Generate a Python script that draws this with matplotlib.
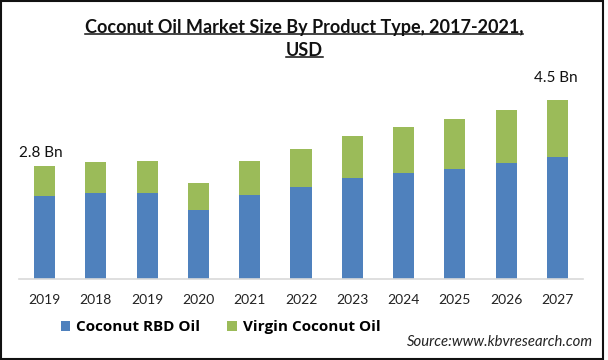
import matplotlib
matplotlib.use("Agg")
import matplotlib.pyplot as plt
from matplotlib.patches import Patch, Rectangle
from matplotlib.lines import Line2D

# ---- data ----
years = ["2019", "2018", "2019", "2020", "2021", "2022", "2023", "2024", "2025", "2026", "2027"]
rbd_oil = [2.06, 2.13, 2.13, 1.71, 2.08, 2.28, 2.50, 2.63, 2.73, 2.88, 3.03]
virgin_oil = [0.74, 0.77, 0.79, 0.67, 0.84, 0.94, 1.04, 1.14, 1.24, 1.31, 1.41]
series_names = ["Coconut RBD Oil", "Virgin Coconut Oil"]
title_lines = ["Coconut Oil Market Size By Product Type, 2017-2021,", "USD"]
first_label = "2.8 Bn"
last_label = "4.5 Bn"
source_text = "Source:www.kbvresearch.com"

BLUE = "#4F81BD"
GREEN = "#9BBB59"
FONT = "Lato"

W, H = 608, 360
fig = plt.figure(figsize=(W / 100, H / 100), dpi=100)
fig.patch.set_facecolor("white")

# axes placed in pixel terms
left, right, base, top = 19, 583, 279, 70
ax = fig.add_axes([left / W, (H - base) / H, (right - left) / W, (base - top) / H])
x = list(range(len(years)))
ax.bar(x, rbd_oil, width=0.41, color=BLUE, zorder=2)
ax.bar(x, virgin_oil, width=0.41, bottom=rbd_oil, color=GREEN, zorder=2)
ax.set_xlim(-0.5, len(years) - 0.5)
ax.set_ylim(0, 5.18)
ax.set_xticks(x)
ax.set_xticklabels(years, fontfamily=FONT, fontsize=10, color="#222222")
ax.tick_params(axis="x", length=0, pad=11)
ax.set_yticks([])
for s in ["top", "right", "left"]:
    ax.spines[s].set_visible(False)
ax.spines["bottom"].set_color("#D9D9D9")
ax.spines["bottom"].set_linewidth(1.2)
ax.patch.set_alpha(0)

tot0 = rbd_oil[0] + virgin_oil[0]
totn = rbd_oil[-1] + virgin_oil[-1]
ax.annotate(first_label, xy=(0, tot0), xytext=(-4, 13), textcoords="offset pixels",
            ha="center", va="center", fontfamily=FONT, fontsize=11, color="#111111")
ax.annotate(last_label, xy=(len(years) - 1, totn), xytext=(-2, 22), textcoords="offset pixels",
            ha="center", va="center", fontfamily=FONT, fontsize=11, color="#111111")

# title with underline
t1 = fig.text(0.5, 1 - 27 / H, title_lines[0], ha="center", va="center",
              fontfamily=FONT, fontweight="bold", fontsize=13, color="#111111")
t2 = fig.text(0.5, 1 - 50 / H, title_lines[1], ha="center", va="center",
              fontfamily=FONT, fontweight="bold", fontsize=13, color="#111111")
fig.canvas.draw()
r = fig.canvas.get_renderer()
for t, uy in [(t1, 33.5), (t2, 56.5)]:
    bb = t.get_window_extent(r)
    fig.add_artist(Line2D([bb.x0 / W, bb.x1 / W], [1 - uy / H, 1 - uy / H],
                          transform=fig.transFigure, color="#111111", lw=1.1))

# legend
handles = [Patch(facecolor=BLUE, edgecolor="none"), Patch(facecolor=GREEN, edgecolor="none")]
fig.legend(handles, series_names, loc="center left", bbox_to_anchor=(47 / W, 1 - 327 / H),
           ncol=2, frameon=False, handlelength=0.62, handleheight=0.62, handletextpad=0.4,
           columnspacing=1.75, prop={"family": "Open Sans", "weight": "bold", "size": 11})

fig.text(593 / W, 1 - 342 / H, source_text, ha="right", va="center",
         fontfamily=FONT, fontstyle="italic", fontsize=10.7, color="#222222")

# border
fig.add_artist(Rectangle((0.002, 0.003), 0.99, 0.994, transform=fig.transFigure,
                         fill=False, edgecolor="#111111", lw=1.5))

fig.savefig("out.png", dpi=100)
